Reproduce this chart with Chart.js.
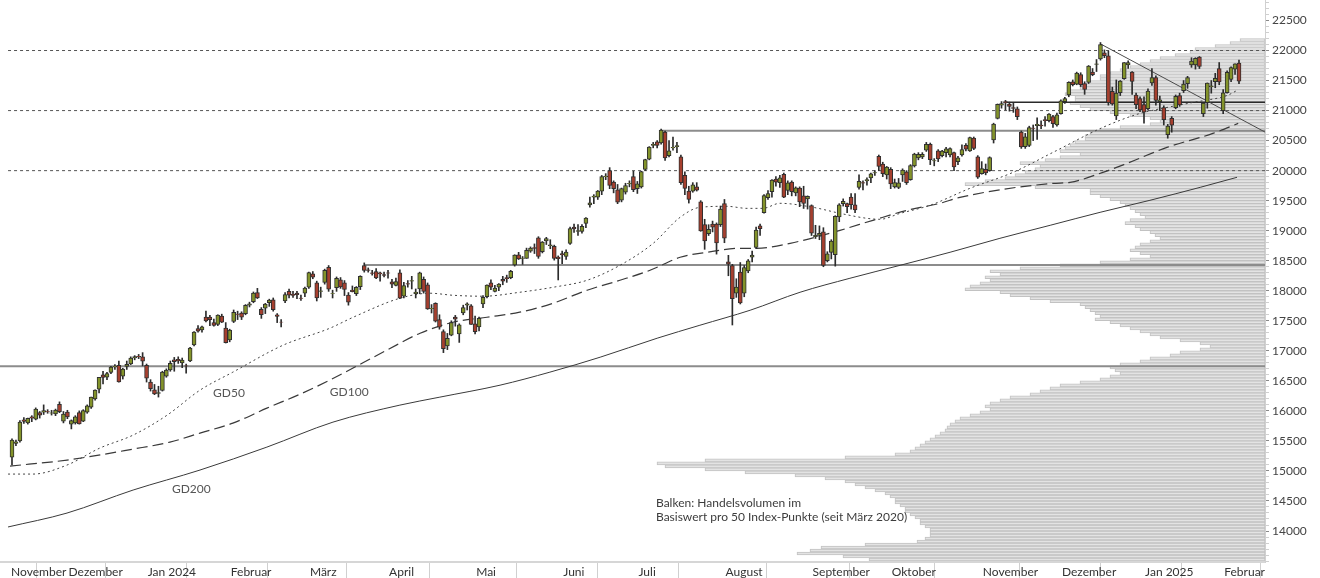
<!DOCTYPE html>
<html><head><meta charset="utf-8">
<script src="https://cdn.jsdelivr.net/npm/chart.js"></script>
<style>
html,body{margin:0;padding:0;background:#fff;}
#wrap{position:relative;width:1320px;height:578px;overflow:hidden;background:#fff;}
#wrap canvas{position:absolute;left:0;top:0;}
</style></head><body>
<div id="wrap"><canvas id="vol" width="1320" height="578"></canvas><canvas id="main" width="1320" height="578"></canvas></div>
<script>
// ---------- DATA ----------
const dates = [
'2023-11-10','2023-11-13','2023-11-14','2023-11-15','2023-11-16','2023-11-17','2023-11-20','2023-11-21','2023-11-22','2023-11-24','2023-11-27','2023-11-28','2023-11-29','2023-11-30',
'2023-12-01','2023-12-04','2023-12-05','2023-12-06','2023-12-07','2023-12-08','2023-12-11','2023-12-12','2023-12-13','2023-12-14','2023-12-15','2023-12-18','2023-12-19','2023-12-20','2023-12-21','2023-12-22','2023-12-26','2023-12-27','2023-12-28','2023-12-29',
'2024-01-02','2024-01-03','2024-01-04','2024-01-05','2024-01-08','2024-01-09','2024-01-10','2024-01-11','2024-01-12','2024-01-16','2024-01-17','2024-01-18','2024-01-19','2024-01-22','2024-01-23','2024-01-24','2024-01-25','2024-01-26','2024-01-29','2024-01-30','2024-01-31',
'2024-02-01','2024-02-02','2024-02-05','2024-02-06','2024-02-07','2024-02-08','2024-02-09','2024-02-12','2024-02-13','2024-02-14','2024-02-15','2024-02-16','2024-02-20','2024-02-21','2024-02-22','2024-02-23','2024-02-26','2024-02-27','2024-02-28','2024-02-29',
'2024-03-01','2024-03-04','2024-03-05','2024-03-06','2024-03-07','2024-03-08','2024-03-11','2024-03-12','2024-03-13','2024-03-14','2024-03-15','2024-03-18','2024-03-19','2024-03-20','2024-03-21','2024-03-22','2024-03-25','2024-03-26','2024-03-27','2024-03-28',
'2024-04-01','2024-04-02','2024-04-03','2024-04-04','2024-04-05','2024-04-08','2024-04-09','2024-04-10','2024-04-11','2024-04-12','2024-04-15','2024-04-16','2024-04-17','2024-04-18','2024-04-19','2024-04-22','2024-04-23','2024-04-24','2024-04-25','2024-04-26','2024-04-29','2024-04-30',
'2024-05-01','2024-05-02','2024-05-03','2024-05-06','2024-05-07','2024-05-08','2024-05-09','2024-05-10','2024-05-13','2024-05-14','2024-05-15','2024-05-16','2024-05-17','2024-05-20','2024-05-21','2024-05-22','2024-05-23','2024-05-24','2024-05-28','2024-05-29','2024-05-30','2024-05-31',
'2024-06-03','2024-06-04','2024-06-05','2024-06-06','2024-06-07','2024-06-10','2024-06-11','2024-06-12','2024-06-13','2024-06-14','2024-06-17','2024-06-18','2024-06-20','2024-06-21','2024-06-24','2024-06-25','2024-06-26','2024-06-27','2024-06-28',
'2024-07-01','2024-07-02','2024-07-03','2024-07-05','2024-07-08','2024-07-09','2024-07-10','2024-07-11','2024-07-12','2024-07-15','2024-07-16','2024-07-17','2024-07-18','2024-07-19','2024-07-22','2024-07-23','2024-07-24','2024-07-25','2024-07-26','2024-07-29','2024-07-30','2024-07-31',
'2024-08-01','2024-08-02','2024-08-05','2024-08-06','2024-08-07','2024-08-08','2024-08-09','2024-08-12','2024-08-13','2024-08-14','2024-08-15','2024-08-16','2024-08-19','2024-08-20','2024-08-21','2024-08-22','2024-08-23','2024-08-26','2024-08-27','2024-08-28','2024-08-29','2024-08-30',
'2024-09-03','2024-09-04','2024-09-05','2024-09-06','2024-09-09','2024-09-10','2024-09-11','2024-09-12','2024-09-13','2024-09-16','2024-09-17','2024-09-18','2024-09-19','2024-09-20','2024-09-23','2024-09-24','2024-09-25','2024-09-26','2024-09-27','2024-09-30',
'2024-10-01','2024-10-02','2024-10-03','2024-10-04','2024-10-07','2024-10-08','2024-10-09','2024-10-10','2024-10-11','2024-10-14','2024-10-15','2024-10-16','2024-10-17','2024-10-18','2024-10-21','2024-10-22','2024-10-23','2024-10-24','2024-10-25','2024-10-28','2024-10-29','2024-10-30','2024-10-31',
'2024-11-01','2024-11-04','2024-11-05','2024-11-06','2024-11-07','2024-11-08','2024-11-11','2024-11-12','2024-11-13','2024-11-14','2024-11-15','2024-11-18','2024-11-19','2024-11-20','2024-11-21','2024-11-22','2024-11-25','2024-11-26','2024-11-27','2024-11-29',
'2024-12-02','2024-12-03','2024-12-04','2024-12-05','2024-12-06','2024-12-09','2024-12-10','2024-12-11','2024-12-12','2024-12-13','2024-12-16','2024-12-17','2024-12-18','2024-12-19','2024-12-20','2024-12-23','2024-12-24','2024-12-26','2024-12-27','2024-12-30','2024-12-31',
'2025-01-02','2025-01-03','2025-01-06','2025-01-07','2025-01-08','2025-01-10','2025-01-13','2025-01-14','2025-01-15','2025-01-16','2025-01-17','2025-01-21','2025-01-22','2025-01-23','2025-01-24','2025-01-27','2025-01-28','2025-01-29','2025-01-30','2025-01-31',
'2025-02-03','2025-02-04','2025-02-05','2025-02-06','2025-02-07'
];
const open = [
15230,15460,15500,15850,15800,15900,15860,15970,15980,15990,15960,15950,16110,15830,
15980,15780,15800,15970,15830,15980,16060,16200,16360,16600,16560,16640,16730,16760,16580,16740,16780,16880,16910,16900,
16760,16480,16350,16290,16340,16580,16680,16850,16860,16800,16750,16830,17100,17370,17350,17560,17560,17470,17440,17580,17380,
17180,17490,17610,17630,17620,17760,17820,17970,17690,17710,17800,17850,17600,17480,17830,17990,17940,17960,17880,17960,
18060,18280,18130,17990,18140,18390,17950,18050,18180,18130,17930,18010,17950,18070,18420,18350,18300,18320,18300,18270,
18300,18150,18090,18300,17910,18120,18160,17950,18030,18190,18100,17700,17790,17520,17320,17080,17260,17560,17280,17630,17760,17750,
17450,17400,17780,17900,18130,17990,18060,18190,18220,18220,18430,18600,18540,18540,18660,18720,18880,18650,18830,18750,18740,18560,
18620,18570,18790,19060,18990,18990,19120,19430,19560,19560,19660,19900,20000,19810,19680,19510,19640,19780,19900,
19700,19730,20020,20190,20420,20480,20460,20640,20250,20380,20400,20230,19920,19660,19660,19730,19480,19100,18950,19110,19110,19100,
19450,18480,18420,17960,18310,17960,18330,18560,18720,19080,19300,19550,19650,19860,19800,19940,19670,19810,19630,19710,19580,19530,
19420,18900,18920,18980,18500,18640,18600,19230,19450,19450,19560,19430,19720,19800,19830,19880,19960,20240,20110,19930,
20020,19730,19720,19930,19980,19850,20080,20210,20230,20340,20440,20160,20330,20250,20300,20260,20300,20150,20260,20420,20330,20540,20230,
19950,20020,20000,20510,20870,21090,21150,21110,21050,21030,20640,20400,20420,20710,20750,20760,20850,20830,20900,20760,
20950,21150,21260,21480,21440,21600,21450,21470,21640,21770,21860,21960,21910,21320,20910,21300,21530,21760,21640,21260,21200,
21100,21030,21460,21550,21150,21050,20600,20870,21050,21250,21330,21450,21760,21760,21890,20950,21130,21400,21480,21700,
21000,21300,21520,21690,21790
];
const high = [
15535,15515,15840,15890,15880,15920,16050,15990,16100,16020,16010,16030,16150,15990,
16010,15850,15920,16000,16020,16100,16230,16350,16560,16660,16640,16740,16770,16830,16710,16830,16900,16920,16940,16970,
16780,16520,16440,16410,16660,16700,16830,16890,16900,16880,16780,17060,17320,17420,17410,17660,17590,17530,17600,17610,17470,
17360,17680,17660,17650,17770,17810,17980,18040,17720,17790,17860,17880,17620,17520,17970,18030,17990,17990,17930,18060,
18310,18320,18160,18060,18360,18420,18010,18230,18220,18170,17970,18080,18070,18250,18464,18380,18340,18370,18310,18310,
18340,18190,18210,18350,18140,18170,18240,18030,18310,18230,18130,17770,17800,17600,17350,17290,17500,17590,17450,17760,17800,17770,
17580,17560,17920,18100,18180,18090,18120,18240,18260,18340,18600,18640,18570,18710,18730,18780,18900,18820,18890,18850,18760,18580,
18660,18680,19060,19110,19100,19100,19220,19560,19600,19670,19920,19950,20050,19830,19770,19710,19790,19830,19990,
19820,19990,20190,20400,20470,20500,20690,20660,20500,20560,20470,20260,19980,19740,19800,19800,19500,19190,19100,19160,19130,19410,
19520,18590,18440,18200,18470,18420,18520,18660,19060,19110,19600,19670,19850,19900,19920,19960,19830,19830,19730,19730,19740,19580,
19430,19090,19080,19050,18650,18850,19250,19450,19530,19460,19620,19620,19930,19830,19880,19960,20000,20260,20140,20070,
20050,19860,19870,20030,20000,20100,20290,20300,20300,20470,20460,20200,20350,20340,20390,20380,20310,20240,20430,20450,20560,20560,20250,
20150,20110,20230,20790,21110,21150,21170,21140,21120,21060,20660,20620,20740,20760,20880,20830,20900,20950,20920,20960,
21180,21220,21480,21510,21640,21630,21480,21750,21700,21850,22133,22010,21990,21390,21510,21500,21800,21830,21650,21290,21230,
21230,21360,21700,21580,21240,21080,20770,20900,21260,21290,21500,21570,21880,21880,21900,21130,21460,21500,21620,21800,
21350,21660,21730,21780,21840
];
const low = [
15100,15420,15480,15790,15780,15820,15850,15880,15940,15960,15930,15920,15970,15800,
15870,15700,15780,15780,15820,15960,16040,16180,16300,16450,16520,16620,16690,16480,16530,16690,16770,16850,16870,16750,
16480,16330,16270,16230,16330,16560,16660,16660,16790,16720,16630,16820,17080,17310,17310,17480,17420,17410,17420,17470,17130,
17150,17470,17520,17520,17600,17730,17800,17870,17540,17620,17740,17660,17470,17400,17800,17880,17890,17870,17840,17900,
18040,18200,17830,17890,18110,17990,17880,17990,18040,17920,17760,17980,17920,18020,18310,18310,18260,18200,18160,18230,
18210,18050,18080,17870,17880,18060,18030,17880,17950,17960,17690,17630,17480,17360,16970,17020,17250,17410,17140,17600,17680,17440,
17280,17330,17720,17880,18020,17980,18000,18100,18140,18200,18410,18520,18440,18540,18640,18620,18540,18630,18770,18700,18510,18180,
18450,18520,18770,18970,18920,18960,19050,19390,19450,19520,19600,19850,19700,19630,19450,19480,19610,19730,19650,
19620,19710,20000,20180,20380,20380,20440,20170,20230,20340,20300,19770,19600,19460,19640,19660,18990,18690,18920,18980,18610,19070,
18800,18250,17430,17890,17780,17900,18300,18480,18700,18920,19290,19520,19560,19740,19720,19550,19600,19580,19580,19400,19370,19360,
18920,18870,18850,18400,18480,18530,18410,19150,19410,19300,19360,19300,19690,19680,19760,19800,19920,20000,19900,19860,
19700,19710,19700,19820,19770,19840,20060,20180,20200,20320,20100,20080,20150,20230,20230,20230,20000,20100,20240,20330,20320,20350,19870,
19940,19930,19990,20460,20860,21040,21010,20990,20970,20850,20370,20370,20400,20500,20520,20700,20740,20810,20720,20740,
20940,21120,21230,21410,21430,21400,21270,21450,21580,21650,21840,21880,21090,21090,20850,21250,21520,21700,21270,21030,20980,
20790,21010,21420,21090,21000,20760,20540,20640,21030,21070,21300,21370,21720,21690,21700,20900,21040,21290,21380,21430,
20950,21290,21480,21600,21450
];
const close = [
15515,15484,15812,15826,15875,15878,16032,15929,16005,15983,15967,16014,15987,15947,
15900,15839,15899,15785,16006,16084,16229,16348,16558,16556,16623,16729,16743,16484,16696,16775,16879,16906,16898,16826,
16544,16368,16283,16306,16646,16680,16793,16821,16832,16844,16748,17047,17314,17329,17401,17499,17519,17421,17596,17477,17137,
17344,17642,17605,17559,17756,17783,17963,17882,17600,17780,17845,17686,17572,17478,17937,17928,17923,17933,17874,18043,
18302,18226,17882,17999,18339,18028,17954,18209,18066,18021,17808,17985,18058,18240,18339,18340,18288,18214,18281,18255,
18291,18110,18154,17878,18088,18109,18168,17978,18298,17990,17697,17707,17493,17394,17037,17210,17471,17526,17431,17718,17783,17441,
17318,17541,17891,18093,18058,18045,18113,18161,18200,18322,18593,18530,18546,18675,18712,18706,18571,18809,18869,18766,18538,18536,
18597,18646,19035,19031,19000,19074,19210,19465,19576,19659,19903,19908,19752,19700,19474,19701,19750,19789,19682,
19780,19985,20186,20392,20439,20418,20676,20212,20331,20386,20417,19799,19705,19522,19765,19676,18997,18831,19023,19060,18796,19362,
18874,18441,17867,18060,17797,18388,18500,18593,19010,19034,19583,19620,19844,19807,19880,19560,19798,19648,19714,19481,19455,19574,
18960,18922,18957,18422,18613,18829,19238,19430,19491,19400,19433,19344,19820,19791,19852,19945,19968,20069,19948,20061,
19777,19802,19795,20011,19798,20085,20274,20271,20272,20439,20181,20166,20195,20325,20362,20366,20061,20214,20352,20356,20551,20369,19890,
20034,19961,20216,20775,21102,21117,21132,21071,21035,20898,20394,20563,20716,20704,20773,20744,20833,20941,20782,20930,
21164,21200,21469,21430,21623,21432,21351,21740,21596,21780,22097,21913,21133,21110,21290,21491,21798,21800,21486,21100,21012,
20975,21326,21550,21170,21180,20847,20743,20757,21237,21096,21441,21549,21822,21870,21737,21126,21456,21412,21537,21478,
21297,21638,21715,21778,21491
];
// moving averages: [trading-day index, value]
const gd50 = [[-1.0,14948],[5.3,14948],[13.9,15098],[22.2,15381],[30.6,15597],[39.2,15929],[47.5,16345],[55.8,16645],[68.5,17094],[80.3,17376],[86.2,17559],[98.0,17875],[105.6,17959],[111.4,17925],[119.0,17909],[128.3,17975],[136.7,18058],[145.3,18175],[153.6,18424],[162.0,18790],[168.8,19223],[173.8,19389],[180.6,19406],[185.7,19372],[189.7,19372],[194.0,19456],[202.4,19389],[209.2,19289],[216.0,19206],[219.3,19190],[224.4,19289],[231.9,19422],[242.0,19705],[252.9,19971],[263.0,20304],[275.6,20720],[285.0,20953],[291.8,21052],[298.4,21136],[307.0,21252],[309.5,21335]];
const gd100 = [[-0.5,15081],[13.9,15181],[30.6,15364],[39.9,15480],[47.5,15630],[55.8,15796],[64.4,16046],[72.8,16279],[80.3,16512],[94.7,17011],[103.1,17293],[111.4,17476],[120.0,17559],[128.3,17643],[136.7,17792],[145.3,18009],[153.6,18175],[161.2,18341],[168.8,18558],[175.6,18641],[183.9,18707],[188.2,18707],[196.6,18790],[209.2,19006],[217.5,19173],[226.1,19339],[234.5,19456],[239.5,19555],[263.0,19788],[267.3,19805],[275.6,19971],[281.7,20121],[291.8,20387],[303.4,20620],[309.8,20786]];
const gd200 = [[-1.0,14067],[13.9,14299],[30.6,14682],[47.5,15015],[64.4,15397],[81.1,15813],[98.0,16096],[108.1,16229],[123.3,16428],[135.9,16645],[148.6,16894],[163.0,17210],[173.8,17426],[186.5,17676],[199.1,17975],[211.7,18208],[224.4,18424],[237.0,18641],[249.6,18873],[262.3,19090],[274.9,19306],[287.5,19506],[300.2,19722],[309.5,19889]];
// reference levels
const dashedLevels = [22000, 21000, 20000];
const supportLevels = [20665, 18430, 16745];
const supportStartIdx = [164, 89, -3.03];
const resistLevel = 21140, resistStartIdx = 251;
const trendPoints = [[275, 22110], [316.57, 20642]];
// volume profile (per 50 index points, from 13500 upward)
const volBinStart = 13500, volBinSize = 50;
const volume = [
396,422,468,455,444,400,348,340,335,335,335,340,345,345,350,355,360,360,365,370,
370,375,380,390,400,410,420,440,470,520,560,600,608,560,420,370,355,350,345,340,
335,330,325,320,318,315,310,305,295,285,275,280,275,265,255,235,225,215,205,185,
165,155,145,150,155,145,125,115,95,85,65,55,65,85,105,115,125,135,145,155,
170,165,170,175,180,185,215,235,255,265,300,295,285,275,280,265,275,245,205,165,
135,115,125,135,130,125,115,105,110,115,125,130,140,135,120,125,130,135,140,145,
155,165,175,175,230,300,280,260,250,240,230,225,245,220,205,185,205,200,195,190,
180,180,175,165,145,115,105,115,135,155,175,185,195,190,190,200,195,185,185,175,
165,165,155,145,135,125,115,105,90,75,70,50,35,25
];
const monthLabels = ['November','Dezember','Jan 2024','Februar','März','April','Mai','Juni','Juli','August','September','Oktober','November','Dezember','Jan 2025','Februar'];
const yTickLabels = [14000,14500,15000,15500,16000,16500,17000,17500,18000,18500,19000,19500,20000,20500,21000,21500,22000,22500];
const annotations = [
  {text:'GD50', x:50.8, y:16231, size:12, color:'#555'},
  {text:'GD100', x:80.3, y:16248, size:12, color:'#555'},
  {text:'GD200', x:40.4, y:14633, size:12, color:'#555'},
  {text:'Balken: Handelsvolumen im', x:162.7, y:14400, size:12, color:'#3c3c3c'},
  {text:'Basiswert pro 50 Index-Punkte (seit März 2020)', x:162.7, y:14167, size:12, color:'#3c3c3c'}
];

// ---------- CHARTS ----------
const X_MIN = -3.03, X_MAX = 316.57, Y_MIN = 13484, Y_MAX = 22841;
const FONT = 'Lato';
Chart.defaults.font.family = FONT;
Chart.defaults.animation = false;

const monthTicks = [-1];
for (let i = 1; i < dates.length; i++) {
  if (dates[i].slice(0,7) !== dates[i-1].slice(0,7)) monthTicks.push(i - 0.5);
}
const yTicks = [];
for (let v = 13500; v <= 22800; v += 100) yTicks.push(v);

// volume profile chart (background)
new Chart(document.getElementById('vol'), {
  type: 'bar',
  data: { datasets: [{
    data: volume.map((v, i) => ({ y: volBinStart + volBinSize * i + volBinSize / 2, x: v })),
    backgroundColor: '#e3e3e3', borderColor: '#c2c2c2', borderWidth: 1, borderSkipped: false,
    barThickness: 3
  }]},
  options: {
    indexAxis: 'y', responsive: false, animation: false,
    layout: { padding: { left: 0, top: 0, right: 55, bottom: 16 } },
    scales: {
      x: { type: 'linear', display: false, reverse: true, min: 0, max: 1265, offset: false },
      y: { type: 'linear', display: false, min: Y_MIN, max: Y_MAX, offset: false }
    },
    plugins: { legend: { display: false }, tooltip: { enabled: false } }
  }
});

const GREEN = '#83932a', RED = '#a63f2e';
const idx = dates.map((d, i) => i);
const lineBase = { type: 'line', pointRadius: 0, tension: 0, fill: false, borderWidth: 1 };
const maBase = { ...lineBase, cubicInterpolationMode: 'monotone' };
const ds = [];
dashedLevels.forEach(v => ds.push({ ...lineBase, data: [{x:-1,y:v},{x:X_MAX,y:v}], borderColor: '#555', borderDash: [3,3], order: 20 }));
supportLevels.forEach((v, k) => ds.push({ ...lineBase, data: [{x:supportStartIdx[k],y:v},{x:X_MAX,y:v}], borderColor: '#8c8c8c', borderWidth: 2, order: 19 }));
ds.push({ ...lineBase, data: [{x:resistStartIdx,y:resistLevel},{x:X_MAX,y:resistLevel}], borderColor: '#2a2a2a', borderWidth: 1.5, order: 18 });
ds.push({ ...lineBase, data: trendPoints.map(p => ({x:p[0], y:p[1]})), borderColor: '#4a4a4a', borderWidth: 1, order: 17 });
ds.push({ ...maBase, data: gd200.map(p => ({x:p[0], y:p[1]})), borderColor: '#3a3a3a', borderWidth: 1, order: 16 });
ds.push({ ...maBase, data: gd100.map(p => ({x:p[0], y:p[1]})), borderColor: '#3a3a3a', borderWidth: 1.2, borderDash: [11,5], order: 15 });
ds.push({ ...maBase, data: gd50.map(p => ({x:p[0], y:p[1]})), borderColor: '#444', borderWidth: 1, borderDash: [2,3], order: 14 });
ds.push({ type: 'bar', data: idx.map(i => ({x:i, y:[low[i], high[i]]})), backgroundColor: '#2c2c2c', barThickness: 1, grouped: false, order: 3 });
ds.push({ type: 'bar', data: idx.map(i => ({x:i, y:[open[i], close[i]]})), backgroundColor: idx.map(i => close[i] >= open[i] ? GREEN : RED), borderColor: '#2f2f2f', borderWidth: 1, borderSkipped: false, barThickness: 4, grouped: false, order: 2 });

const textPlugin = {
  id: 'annot',
  afterDatasetsDraw(chart) {
    const { ctx, scales: { x, y } } = chart;
    ctx.save();
    ctx.textBaseline = 'alphabetic';
    ctx.textAlign = 'left';
    annotations.forEach(a => {
      ctx.font = a.size + 'px ' + FONT;
      ctx.fillStyle = a.color;
      ctx.fillText(a.text, x.getPixelForValue(a.x), y.getPixelForValue(a.y));
    });
    ctx.restore();
  }
};

new Chart(document.getElementById('main'), {
  type: 'bar',
  data: { datasets: ds },
  options: {
    responsive: false, animation: false,
    layout: { padding: 0 },
    scales: {
      x: {
        type: 'linear', position: 'bottom', min: X_MIN, max: X_MAX, offset: false,
        afterBuildTicks: s => { s.ticks = monthTicks.map(v => ({ value: v })); },
        afterFit: s => { s.height = 16; s.paddingLeft = 0; s.paddingRight = 0; },
        grid: { drawOnChartArea: false, drawTicks: true, tickLength: 16, tickWidth: 1,
                tickColor: c => c.index === 0 ? 'rgba(0,0,0,0)' : '#d0d0d0' },
        border: { display: true, color: '#d6d6d6', width: 2 },
        ticks: { autoSkip: false, maxRotation: 0, minRotation: 0, align: 'start', padding: -13,
                 color: '#333', font: { family: FONT, size: 12 },
                 callback: (v, i) => ' ' + monthLabels[i] }
      },
      y: {
        type: 'linear', position: 'right', min: Y_MIN, max: Y_MAX,
        afterBuildTicks: s => { s.ticks = yTicks.map(v => ({ value: v })); },
        afterFit: s => { s.width = 55; s.paddingTop = 0; s.paddingBottom = 0; },
        grid: { drawOnChartArea: false, drawTicks: true, tickLength: 4,
                tickColor: c => (c.tick && yTickLabels.includes(c.tick.value)) ? '#888' : '#cfcfcf' },
        border: { display: true, color: '#d0d0d0', width: 1 },
        ticks: { autoSkip: false, padding: 3, color: '#444', font: { family: FONT, size: 12 },
                 callback: v => yTickLabels.includes(v) ? String(v) : '' }
      }
    },
    plugins: { legend: { display: false }, tooltip: { enabled: false } }
  },
  plugins: [textPlugin]
});
</script>
</body></html>
